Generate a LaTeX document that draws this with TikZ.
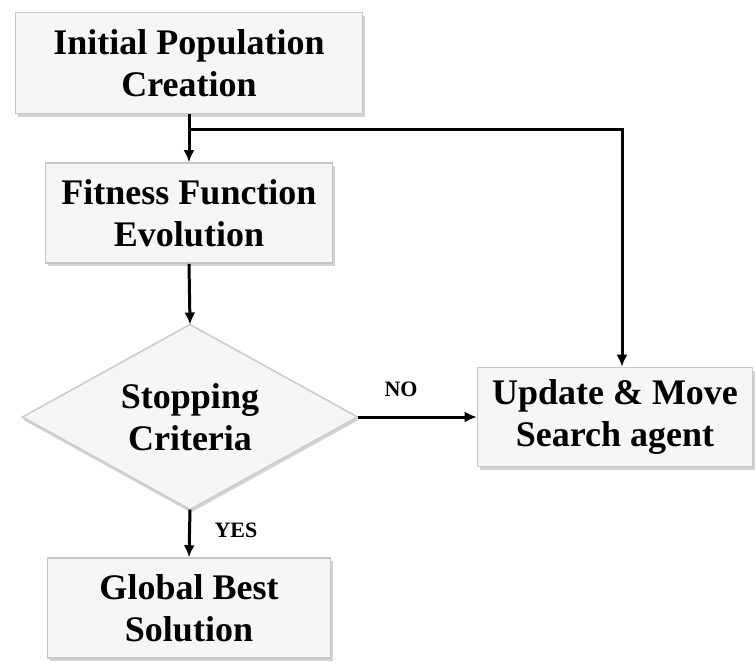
\documentclass[tikz,border=0pt]{standalone}
\usepackage{fontspec}
\setmainfont{Liberation Serif}
\usetikzlibrary{shapes.geometric,arrows.meta,shadows}
\begin{document}
\begin{tikzpicture}[x=1pt,y=-1pt,
  boxstyle/.style={draw=gray!45, line width=1.6pt, fill=gray!7,
    drop shadow={shadow xshift=2pt, shadow yshift=-3pt, opacity=0.35, fill=gray},
    inner sep=0pt, align=center, font=\fontsize{36}{42}\selectfont\bfseries},
  decision/.style={diamond, aspect=1.8, draw=gray!40, line width=1.6pt, fill=gray!7,
    drop shadow={shadow xshift=1pt, shadow yshift=-3pt, opacity=0.35, fill=gray},
    inner sep=0pt, outer sep=0pt, align=center, font=\fontsize{36}{42}\selectfont\bfseries},
  conn/.style={line width=3pt, black},
  arr/.style={conn, -{Latex[length=12pt,width=11pt]}},
  tag/.style={font=\fontsize{22}{24}\selectfont\bfseries}]
\useasboundingbox (0,0) rectangle (755,662);

% process boxes
\node[boxstyle, minimum width=347pt, minimum height=101pt] (init) at (189,63)
  {Initial Population\\Creation};
\node[boxstyle, minimum width=287pt, minimum height=100pt] (fit) at (189,213)
  {Fitness Function\\Evolution};
\node[decision, minimum width=335pt, minimum height=185pt] (stop) at (190,417)
  {Stopping\\Criteria};
\node[boxstyle, minimum width=283pt, minimum height=100pt] (best) at (189,608)
  {Global Best\\Solution};
\node[boxstyle, minimum width=275pt, minimum height=99pt] (upd) at (615,417)
  {Update \& Move\\Search agent};

% connectors
\coordinate (split) at (190,129);
\coordinate (updin) at ([xshift=7pt]upd.north);
\draw[arr] (init.south) -- (fit.north);
\draw[arr] (split) -| (updin);
\draw[arr] (fit.south) -- (stop.north);
\draw[arr] (stop.east) -- (upd.west);
\draw[arr] (stop.south) -- (best.north);

% branch labels
\node[tag] (no) at (401,389) {NO};
\node[tag] (yes) at (236,530) {YES};
\end{tikzpicture}
\end{document}
